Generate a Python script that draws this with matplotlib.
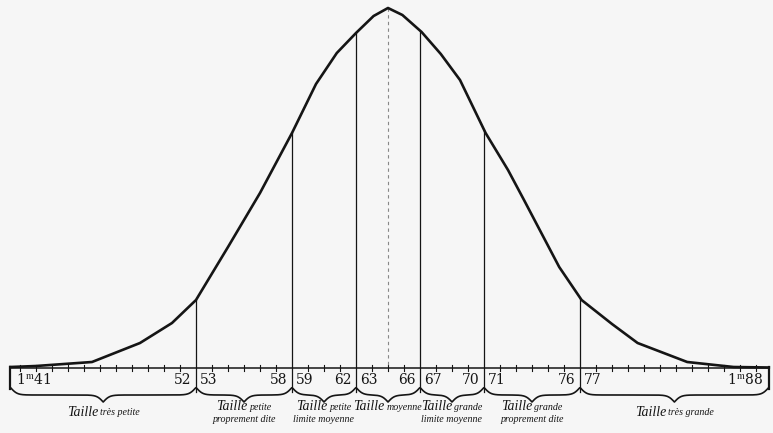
import numpy as np
import matplotlib
matplotlib.use("Agg")
import matplotlib.pyplot as plt
from matplotlib.transforms import offset_copy

plt.rcParams['mathtext.fontset'] = 'stix'

# ---- data ----
taille = [40.9, 42.5, 46.0, 49.0, 51.0, 52.5, 54.5, 56.5, 58.5, 60.0, 61.3, 62.5, 63.6, 64.5,
          65.4, 66.6, 67.8, 69.0, 70.6, 72.0, 73.0, 75.2, 76.6, 78.5, 80.1, 83.2, 86.1, 88.3]
effectif = [1, 2, 6, 25, 45, 68, 121, 175, 235, 284, 315, 335, 352, 360,
            353, 336, 314, 288, 235, 198, 168, 101, 68, 44, 25, 6, 1, 0.5]

bounds = [40.9, 52.5, 58.5, 62.5, 66.5, 70.5, 76.5, 88.3]
class_lo = ["1$^{\\mathrm{m}}$41", "53", "59", "63", "67", "71", "77"]
class_hi = ["52", "58", "62", "66", "70", "76", "1$^{\\mathrm{m}}$88"]
big_word = ["Taille"] * 7
small_word = ["très petite", "petite", "petite", "moyenne", "grande", "grande", "très grande"]
second_line = ["", "proprement dite", "limite moyenne", "", "limite moyenne", "proprement dite", ""]
moyenne = 64.5
ticks = np.arange(41.5, 88.0, 1.0)

# ---- figure ----
W, H = 773, 433
fig = plt.figure(figsize=(W / 100, H / 100), dpi=100)
fig.patch.set_facecolor('#f6f6f6')
ax = fig.add_axes([0, 0, 1, 1])
ax.set_facecolor('#f6f6f6')
ax.set_xlim(40.25, 40.25 + W / 16.0)
ax.set_ylim(-(H - 368), 368)
ax.axis('off')

ink = '#151515'

# curve
ax.plot(taille, effectif, color=ink, lw=1.9, solid_joinstyle='round', zorder=3)

# baseline with ticks
ax.plot([bounds[0], bounds[-1]], [0, 0], color=ink, lw=1.1)
for t in ticks:
    if any(abs(t - b) < 0.2 for b in bounds):
        continue
    ax.plot([t, t], [-2.5, 3.5], color=ink, lw=0.8)

# separators from the curve down to the braces
hcurve = np.interp(bounds[1:-1], taille, effectif)
for b, hc in zip(bounds[1:-1], hcurve):
    ax.plot([b, b], [hc, -24], color=ink, lw=0.9)

# left / right end brackets
for b in (bounds[0], bounds[-1]):
    ax.plot([b, b], [1, -21], color=ink, lw=1.6)

# mean dashed line
ax.plot([moyenne, moyenne], [360, 0], color='#888888', lw=0.8, ls=(0, (3, 3)))

# braces
def brace(x0, x1, ytop=-20, depth=14, beta=5.0):
    xs = np.linspace(x0, x1, 401)
    half = xs[:201]
    yh = 1 / (1 + np.exp(-beta * (half - half[0]))) + 1 / (1 + np.exp(-beta * (half - half[-1])))
    y = np.concatenate([yh, yh[-2::-1]])
    y = ytop - depth * (y - 0.5)
    ax.plot(xs, y, color=ink, lw=1.2)

for i in range(7):
    brace(bounds[i] + 0.03, bounds[i + 1] - 0.03)

# numbers
numfont = dict(family='DejaVu Serif', fontsize=10, color=ink, va='center')
for i in range(7):
    ax.annotate(class_lo[i], (bounds[i], -12), xytext=(3 if i else 4, 0),
                textcoords='offset points', ha='left', **numfont)
    ax.annotate(class_hi[i], (bounds[i + 1], -12), xytext=(-3 if i < 6 else -4, 0),
                textcoords='offset points', ha='right', **numfont)

# category labels: "Taille" big + qualifier small, centred together
bigfont = dict(family='Liberation Serif', style='italic', fontsize=10, color=ink)
smallfont = dict(family='Liberation Serif', style='italic', fontsize=7.2, color=ink)
gap = 1.5  # points
fig.canvas.draw()
renderer = fig.canvas.get_renderer()
for i in range(7):
    c = (bounds[i] + bounds[i + 1]) / 2
    y1 = -44 if i in (0, 6) else -39
    tb = ax.text(c, y1, big_word[i], ha='left', va='center', **bigfont)
    ts = ax.text(c, y1 - 0.5, small_word[i], ha='left', va='center', **smallfont)
    wb = tb.get_window_extent(renderer).width * 72 / fig.dpi
    ws = ts.get_window_extent(renderer).width * 72 / fig.dpi
    total = wb + gap + ws
    tb.set_transform(offset_copy(ax.transData, fig=fig, x=-total / 2, y=0, units='points'))
    ts.set_transform(offset_copy(ax.transData, fig=fig, x=-total / 2 + wb + gap, y=0, units='points'))
    if second_line[i]:
        ax.text(c, -51, second_line[i], ha='center', va='center', **smallfont)

fig.savefig('out.png', dpi=100, facecolor=fig.get_facecolor())
